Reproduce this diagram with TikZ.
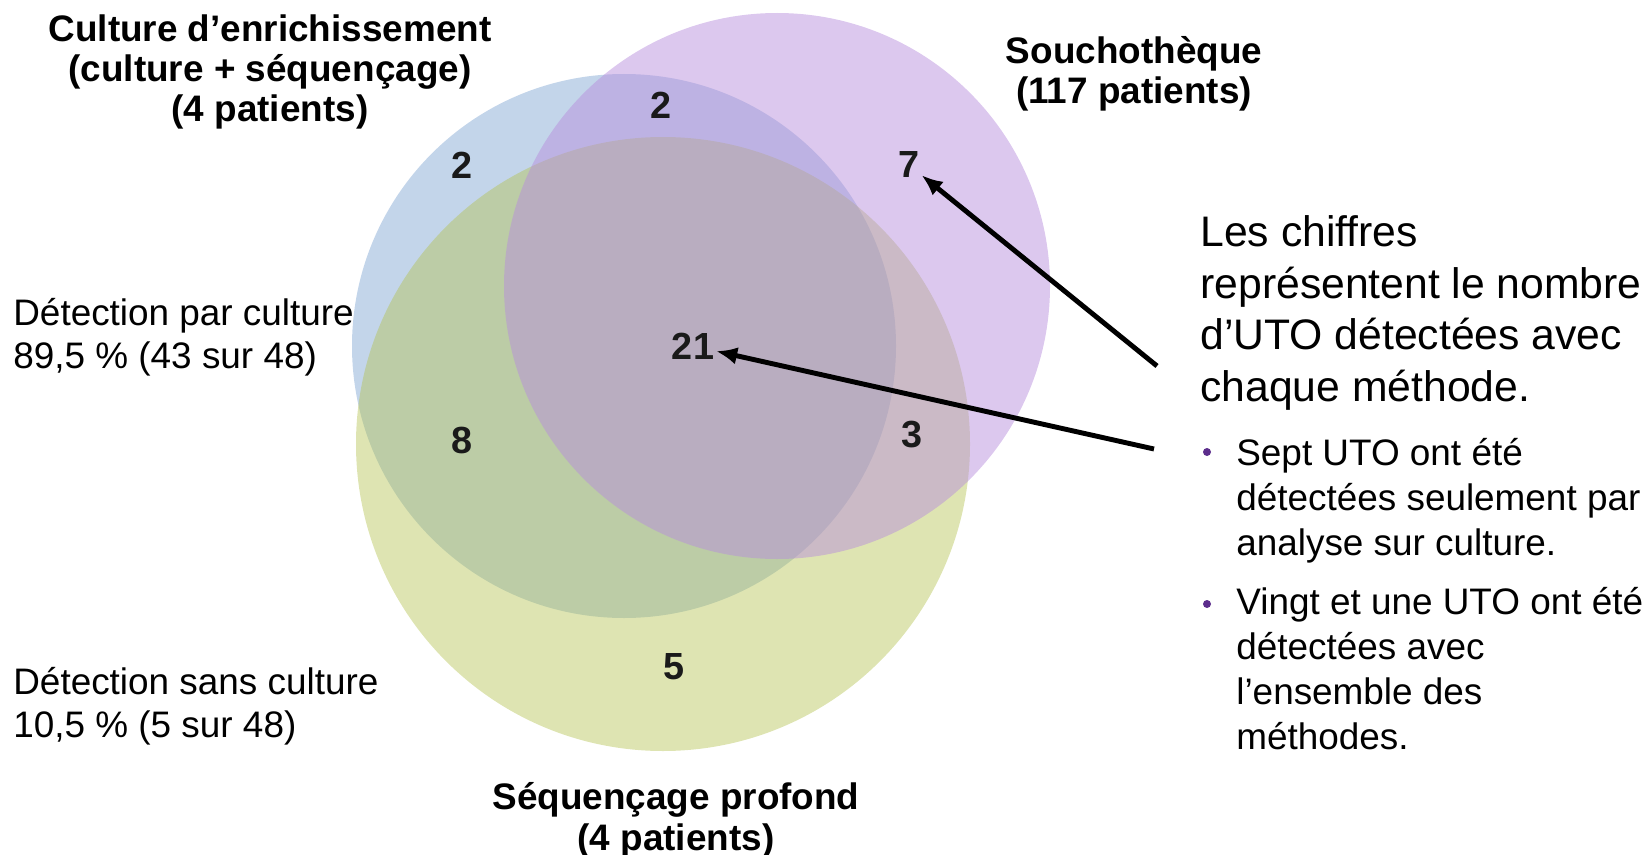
\documentclass[tikz,border=0pt]{standalone}
\usepackage{fontspec}
\setmainfont{Liberation Sans}
\usetikzlibrary{arrows.meta}
\definecolor{vennblue}{RGB}{105,150,202}
\definecolor{venngreen}{RGB}{179,193,77}
\definecolor{vennpurple}{RGB}{183,141,220}
\definecolor{bulletpurple}{RGB}{92,45,140}
\definecolor{countink}{RGB}{26,26,26}
\tikzset{
  setlabel/.style={
    font=\fontsize{21}{23}\selectfont\bfseries,
    align=center,
    anchor=base,
    inner sep=0pt
  },
  sidelabel/.style={
    font=\fontsize{21}{24}\selectfont,
    align=left,
    anchor=base west,
    inner sep=0pt
  },
  countlabel/.style={
    font=\fontsize{21.5}{24}\selectfont\bfseries,
    text=countink,
    inner sep=1pt
  },
  notetext/.style={
    font=\fontsize{24.3}{29.3}\selectfont,
    align=left,
    anchor=base west,
    inner sep=0pt
  },
  bullettext/.style={
    font=\fontsize{21}{25.6}\selectfont,
    align=left,
    anchor=base west,
    inner sep=0pt
  },
  pointer/.style={
    -{Latex[length=12pt,width=10pt]},
    line width=2.8pt
  }
}
\begin{document}
\begin{tikzpicture}[x=0.02cm, y=-0.02cm]
\useasboundingbox (0,0) rectangle (1650,855);
\fill[vennblue, fill opacity=0.4] (624,346) circle (272);
\fill[venngreen, fill opacity=0.433] (663,444) circle (307);
\fill[vennpurple, fill opacity=0.483] (777,286) circle (273);

\node[setlabel] (enrich) at (270,122) {Culture d’enrichissement\\(culture + séquençage)\\(4 patients)};
\node[setlabel] (souch) at (1134,104) {Souchothèque\\(117 patients)};
\node[setlabel] (deepseq) at (676,850) {Séquençage profond\\(4 patients)};
\node[sidelabel] (withcult) at (13,368) {Détection par culture\\89,5 \% (43 sur 48)};
\node[sidelabel] (nocult) at (13,737) {Détection sans culture\\10,5 \% (5 sur 48)};

\node[countlabel] (nblue) at (462,165) {2};
\node[countlabel] (nbp) at (661,105) {2};
\node[countlabel] (npurple) at (909,165) {7};
\node[countlabel] (nall) at (693,346) {21};
\node[countlabel] (nbg) at (462,440) {8};
\node[countlabel] (npg) at (912,435) {3};
\node[countlabel] (ngreen) at (674,667) {5};

\node[notetext] (note) at (1200,401) {Les chiffres\\représentent le nombre\\d’UTO détectées avec\\chaque méthode.};
\fill[bulletpurple] (1207,452) circle (4);
\node[bullettext] (first) at (1236,555) {Sept UTO ont été\\détectées seulement par\\analyse sur culture.};
\fill[bulletpurple] (1207,604) circle (4);
\node[bullettext] (second) at (1236,749) {Vingt et une UTO ont été\\détectées avec\\l’ensemble des\\méthodes.};

\coordinate (tailseven) at (1157,366);
\coordinate (tailall) at (1154,449);
\draw[pointer] (tailseven) -- (npurple);
\draw[pointer] (tailall) -- (nall);
\end{tikzpicture}
\end{document}
